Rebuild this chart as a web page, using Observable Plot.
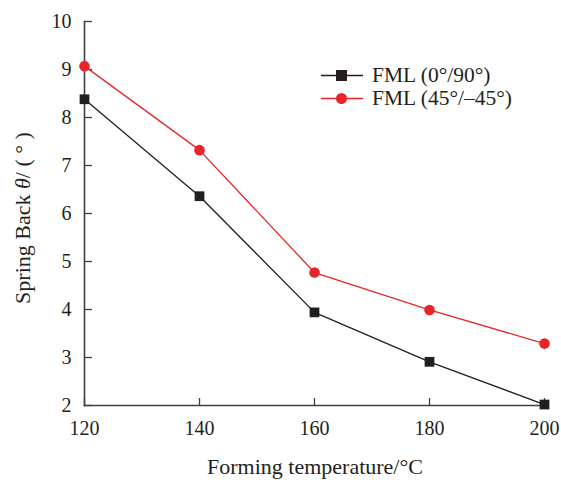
<!DOCTYPE html>
<html><head><meta charset="utf-8">
<script src="https://cdn.jsdelivr.net/npm/d3@7"></script>
<script src="https://cdn.jsdelivr.net/npm/@observablehq/plot@0.6"></script>
<style>
body{margin:0;background:#fff}
#chart{position:relative;width:561px;height:480px;font-family:'Liberation Serif';color:#231f20}
#chart svg text{font-family:'Liberation Serif'}
.ylab{position:absolute;left:23px;top:218px;transform:translate(-50%,-50%) rotate(-90deg);font-size:22px;white-space:nowrap}
.xlab{position:absolute;left:315px;top:467px;transform:translate(-50%,-50%);font-size:22px;white-space:nowrap}
.legend{position:absolute;left:321px;top:64px;font-size:21.5px;line-height:22.5px}
.legend div{display:flex;align-items:center;white-space:nowrap}
.legend svg{margin-right:9px}
</style>
</head><body><div id="chart"></div>
<script>
const temperatures = [120, 140, 160, 180, 200];
const springBack090 = [8.38, 6.36, 3.94, 2.91, 2.02];
const springBack4545 = [9.07, 7.32, 4.77, 3.99, 3.29];
const seriesNames = ["FML (0°/90°)", "FML (45°/–45°)"];
const seriesColors = ["#231f20", "#e8262a"];
const xTicks = [120, 140, 160, 180, 200];
const yTicks = [2, 3, 4, 5, 6, 7, 8, 9, 10];

const rows = [
  ...temperatures.map((t, i) => ({t, v: springBack090[i], s: seriesNames[0]})),
  ...temperatures.map((t, i) => ({t, v: springBack4545[i], s: seriesNames[1]}))
];
const black = rows.filter(d => d.s === seriesNames[0]);
const red = rows.filter(d => d.s === seriesNames[1]);

const plot = Plot.plot({
  width: 561, height: 480,
  marginLeft: 84, marginRight: 17, marginTop: 21, marginBottom: 75,
  style: {fontFamily: "Liberation Serif", color: "#231f20", background: "#fff"},
  x: {domain: [120, 200]},
  y: {domain: [2, 10]},
  marks: [
    Plot.axisX(xTicks, {tickSize: -7, tickPadding: 22, fontSize: 20, label: null, stroke: "#404040", strokeWidth: 1.3}),
    Plot.axisY(yTicks, {tickSize: -8, tickPadding: 21, fontSize: 20, label: null, stroke: "#404040", strokeWidth: 1.3}),
    Plot.frame({anchor: "left", stroke: "#404040", strokeWidth: 1.6}),
    Plot.frame({anchor: "bottom", stroke: "#404040", strokeWidth: 1.6}),
    Plot.line(red, {x: "t", y: "v", stroke: seriesColors[1], strokeWidth: 1.3}),
    Plot.line(black, {x: "t", y: "v", stroke: seriesColors[0], strokeWidth: 1.3}),
    Plot.dot(red, {x: "t", y: "v", r: 5.3, fill: seriesColors[1], symbol: "circle"}),
    Plot.dot(black, {x: "t", y: "v", r: 5.5, fill: seriesColors[0], symbol: "square"})
  ]
});
const chart = document.getElementById("chart");
chart.appendChild(plot);

const ylab = document.createElement("div");
ylab.className = "ylab";
ylab.innerHTML = 'Spring Back <i>θ</i>/ ( ° )';
chart.appendChild(ylab);

const xlab = document.createElement("div");
xlab.className = "xlab";
xlab.textContent = "Forming temperature/°C";
chart.appendChild(xlab);

const legend = document.createElement("div");
legend.className = "legend";
seriesNames.forEach((name, i) => {
  const row = document.createElement("div");
  const marker = i === 0
    ? `<rect x="15" y="6" width="11" height="11" fill="${seriesColors[i]}"/>`
    : `<circle cx="20.5" cy="11.5" r="5.5" fill="${seriesColors[i]}"/>`;
  row.innerHTML = `<svg width="42" height="23"><line x1="0" x2="42" y1="11.5" y2="11.5" stroke="${seriesColors[i]}" stroke-width="1.3"/>${marker}</svg><span>${name}</span>`;
  legend.appendChild(row);
});
chart.appendChild(legend);
</script>
</body></html>
